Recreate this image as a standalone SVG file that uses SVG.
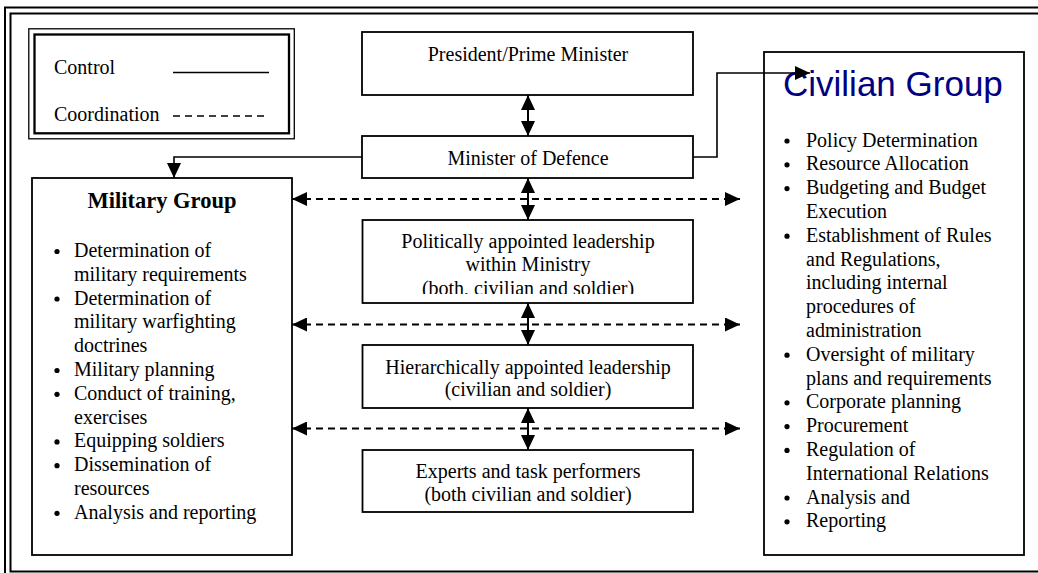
<svg xmlns="http://www.w3.org/2000/svg" width="1038" height="573" viewBox="0 0 1038 573">
  <style>
    .box { fill: #fff; stroke: #000; stroke-width: 1.8; }
    .frame { fill: none; stroke: #000; stroke-width: 2; }
    .t { font-family: "Liberation Serif", "Times New Roman", serif; font-size: 20px; fill: #000; }
    .c { text-anchor: middle; }
    .title { font-family: "Liberation Serif", "Times New Roman", serif; font-size: 22.5px; font-weight: bold; text-anchor: middle; }
    .civ { font-family: "Liberation Sans", Arial, sans-serif; font-size: 35px; fill: #000080; }
    .ctl { fill: none; stroke: #000; stroke-width: 1.6; }
    .co { fill: none; stroke: #000; stroke-width: 2; stroke-dasharray: 7 5; }
    .dbl { fill: none; stroke: #000; stroke-width: 2; }
    .bul { fill: #000; }
  </style>
  <defs>
    <marker id="head" markerUnits="userSpaceOnUse" markerWidth="15" markerHeight="14" viewBox="0 0 15 14" refX="15" refY="7" orient="auto-start-reverse">
      <path d="M0,0 L15,7 L0,14 z" fill="#000"/>
    </marker>
    <clipPath id="cutLine">
      <rect x="362" y="220" width="331" height="74"/>
    </clipPath>
  </defs>

  <rect width="1038" height="573" fill="#fff"/>

  <!-- page frame (double rule, runs off the right and bottom edges) -->
  <g id="frame">
    <rect class="frame" x="5" y="7.5" width="1100" height="600"/>
    <rect class="frame" x="10.5" y="13.5" width="1100" height="558"/>
  </g>

  <!-- legend -->
  <g id="legend">
    <rect fill="none" stroke="#000" stroke-width="1.3" x="28.8" y="28.8" width="265.5" height="110"/>
    <rect fill="none" stroke="#000" stroke-width="2.3" x="34.5" y="34.5" width="254.5" height="98.8"/>
    <text class="t" x="54" y="74">Control</text>
    <line x1="173" y1="72.5" x2="269" y2="72.5" stroke="#000" stroke-width="1.6"/>
    <text class="t" x="54" y="120.5">Coordination</text>
    <line x1="173" y1="116" x2="269" y2="116" stroke="#000" stroke-width="1.6" stroke-dasharray="7 5"/>
  </g>

  <g id="president">
    <rect class="box" x="362" y="32" width="331" height="63"/>
    <text class="t c" x="528" y="61">President/Prime Minister</text>
  </g>

  <g id="minister">
    <rect class="box" x="362" y="136" width="331" height="42"/>
    <text class="t c" x="528" y="165">Minister of Defence</text>
  </g>

  <g id="political">
    <rect class="box" x="362.5" y="220" width="330.5" height="83"/>
    <text class="t c" x="528" y="248">Politically appointed leadership</text>
    <text class="t c" x="528" y="271">within Ministry</text>
    <text class="t c" x="528" y="294.5" clip-path="url(#cutLine)">(both, civilian and soldier)</text>
  </g>

  <g id="hierarchical">
    <rect class="box" x="362.5" y="345" width="330.5" height="63"/>
    <text class="t c" x="528" y="373.5">Hierarchically appointed leadership</text>
    <text class="t c" x="528" y="396">(civilian and soldier)</text>
  </g>

  <g id="experts">
    <rect class="box" x="362.5" y="450" width="330.5" height="62"/>
    <text class="t c" x="528" y="478">Experts and task performers</text>
    <text class="t c" x="528" y="500.5">(both civilian and soldier)</text>
  </g>

  <g id="military">
    <rect class="box" x="32" y="178" width="260" height="377"/>
    <text class="title" x="162" y="208">Military Group</text>
    <g class="bul">
      <circle cx="57" cy="251.5" r="2.6"/>
      <circle cx="57" cy="299" r="2.6"/>
      <circle cx="57" cy="370.5" r="2.6"/>
      <circle cx="57" cy="394.3" r="2.6"/>
      <circle cx="57" cy="441.9" r="2.6"/>
      <circle cx="57" cy="465.7" r="2.6"/>
      <circle cx="57" cy="513.3" r="2.6"/>
    </g>
    <text class="t">
      <tspan x="74" y="257">Determination of</tspan>
      <tspan x="74" y="280.8">military requirements</tspan>
      <tspan x="74" y="304.6">Determination of</tspan>
      <tspan x="74" y="328.4">military warfighting</tspan>
      <tspan x="74" y="352.2">doctrines</tspan>
      <tspan x="74" y="376">Military planning</tspan>
      <tspan x="74" y="399.8">Conduct of training,</tspan>
      <tspan x="74" y="423.6">exercises</tspan>
      <tspan x="74" y="447.4">Equipping soldiers</tspan>
      <tspan x="74" y="471.2">Dissemination of</tspan>
      <tspan x="74" y="495">resources</tspan>
      <tspan x="74" y="518.8">Analysis and reporting</tspan>
    </text>
  </g>

  <g id="civilian">
    <rect class="box" x="764" y="52" width="260" height="503"/>
    <text class="civ" x="783" y="96">Civilian Group</text>
    <g class="bul">
      <circle cx="787" cy="141" r="2.6"/>
      <circle cx="787" cy="164.8" r="2.6"/>
      <circle cx="787" cy="188.6" r="2.6"/>
      <circle cx="787" cy="236.2" r="2.6"/>
      <circle cx="787" cy="355.2" r="2.6"/>
      <circle cx="787" cy="402.8" r="2.6"/>
      <circle cx="787" cy="426.6" r="2.6"/>
      <circle cx="787" cy="450.4" r="2.6"/>
      <circle cx="787" cy="498" r="2.6"/>
      <circle cx="787" cy="521.8" r="2.6"/>
    </g>
    <text class="t">
      <tspan x="806" y="146.5">Policy Determination</tspan>
      <tspan x="806" y="170.3">Resource Allocation</tspan>
      <tspan x="806" y="194.1">Budgeting and Budget</tspan>
      <tspan x="806" y="217.9">Execution</tspan>
      <tspan x="806" y="241.7">Establishment of Rules</tspan>
      <tspan x="806" y="265.5">and Regulations,</tspan>
      <tspan x="806" y="289.3">including internal</tspan>
      <tspan x="806" y="313.1">procedures of</tspan>
      <tspan x="806" y="336.9">administration</tspan>
      <tspan x="806" y="360.7">Oversight of military</tspan>
      <tspan x="806" y="384.5">plans and requirements</tspan>
      <tspan x="806" y="408.3">Corporate planning</tspan>
      <tspan x="806" y="432.1">Procurement</tspan>
      <tspan x="806" y="455.9">Regulation of</tspan>
      <tspan x="806" y="479.7">International Relations</tspan>
      <tspan x="806" y="503.5">Analysis and</tspan>
      <tspan x="806" y="527.3">Reporting</tspan>
    </text>
  </g>

  <!-- connectors -->
  <g id="connectors">
    <!-- control lines from the minister -->
    <polyline class="ctl" points="362,157 174,157 174,178" marker-end="url(#head)"/>
    <polyline class="ctl" points="693,157 717,157 717,73 810,73" marker-end="url(#head)"/>
    <!-- coordination lines between the groups -->
    <line class="co" x1="292" y1="199" x2="740" y2="199" marker-start="url(#head)" marker-end="url(#head)"/>
    <line class="co" x1="292" y1="324.5" x2="740" y2="324.5" marker-start="url(#head)" marker-end="url(#head)"/>
    <line class="co" x1="292" y1="428.5" x2="740" y2="428.5" marker-start="url(#head)" marker-end="url(#head)"/>
    <!-- two-way links down the hierarchy -->
    <line class="dbl" x1="528" y1="95" x2="528" y2="136" marker-start="url(#head)" marker-end="url(#head)"/>
    <line class="dbl" x1="528" y1="178" x2="528" y2="220" marker-start="url(#head)" marker-end="url(#head)"/>
    <line class="dbl" x1="528" y1="303" x2="528" y2="345" marker-start="url(#head)" marker-end="url(#head)"/>
    <line class="dbl" x1="528" y1="408" x2="528" y2="450" marker-start="url(#head)" marker-end="url(#head)"/>
  </g>
</svg>
